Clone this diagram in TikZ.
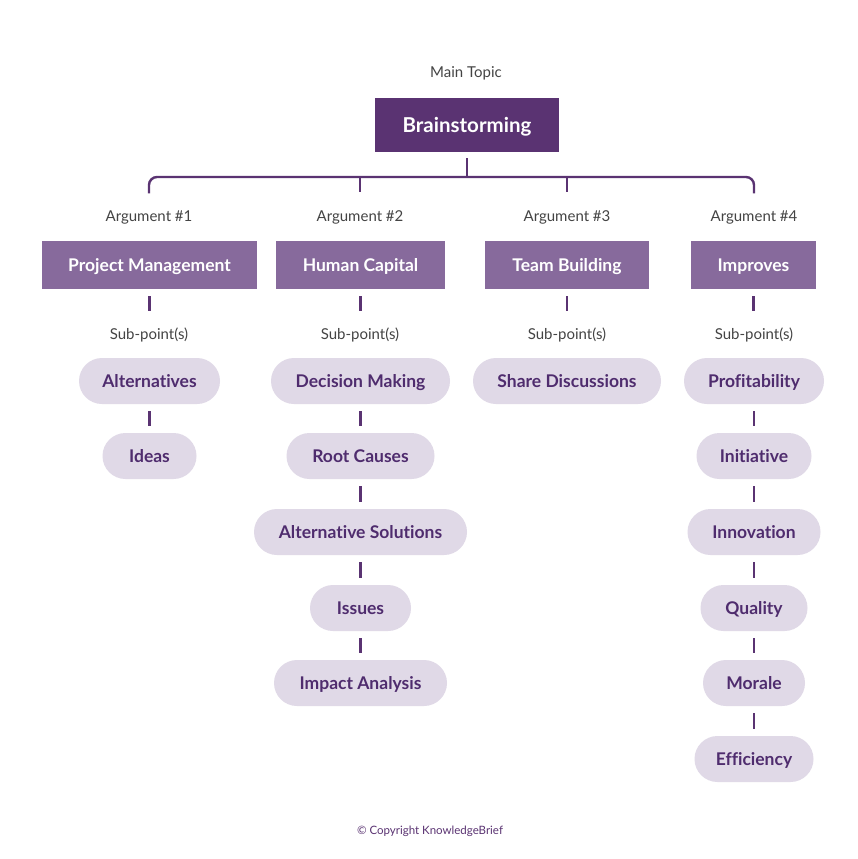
\documentclass[tikz,border=0pt]{standalone}
\usepackage{fontspec}
\setmainfont{Lato}[Ligatures=NoCommon]
\usetikzlibrary{calc}
\definecolor{dark}{HTML}{5A3372}
\definecolor{argc}{HTML}{876A9C}
\definecolor{pillc}{HTML}{E0D9E7}
\definecolor{pilltext}{HTML}{4F2C6E}
\definecolor{labgray}{HTML}{444444}
\begin{document}
\begin{tikzpicture}[x=1pt,y=-1pt,
 topbox/.style={fill=dark, text=white, font=\fontsize{20.5}{23}\selectfont\bfseries, minimum width=184pt, minimum height=54pt, inner sep=0pt, text height=14.7pt, text depth=0pt},
 argbox/.style={fill=argc, text=white, font=\fontsize{17.5}{20}\selectfont\bfseries, minimum height=48pt, inner sep=0pt, text height=12.5pt, text depth=0pt},
 pill/.style={fill=pillc, text=pilltext, rounded corners=23pt, minimum height=46pt, inner sep=0pt, font=\fontsize{17.5}{20}\selectfont\bfseries, text height=12.5pt, text depth=0pt},
 lab/.style={text=labgray, font=\fontsize{15}{17}\selectfont, inner sep=0pt, text height=10.7pt, text depth=0pt},
 conn/.style={draw=dark, line width=2.4pt},
 stub/.style={conn, shorten <=7pt, shorten >=7pt},
]
\fill[white] (0,0) rectangle (858,859);

% main topic
\node[lab] (mt) at (466,72) {Main Topic};
\node[topbox] (top) at (467,125) {Brainstorming};
\coordinate (bar) at (467,177);

% argument labels and boxes
\node[lab] (g1) at (149,216) {Argument \#1};
\node[lab] (g2) at (360,216) {Argument \#2};
\node[lab] (g3) at (567,216) {Argument \#3};
\node[lab] (g4) at (754,216) {Argument \#4};

\node[argbox, minimum width=215pt] (a1) at (149.5,265) {Project Management};
\node[argbox, minimum width=169pt] (a2) at (360.5,265) {Human Capital};
\node[argbox, minimum width=164pt] (a3) at (567,265) {Team Building};
\node[argbox, minimum width=125pt] (a4) at (753.5,265) {Improves};

\node[lab] (s1) at (149,334) {Sub-point(s)};
\node[lab] (s2) at (360,334) {Sub-point(s)};
\node[lab] (s3) at (567,334) {Sub-point(s)};
\node[lab] (s4) at (754,334) {Sub-point(s)};

% pills
\node[pill, minimum width=141pt] (p11) at (149.5,381) {Alternatives};
\node[pill, minimum width=94pt] (p12) at (149.5,456) {Ideas};

\node[pill, minimum width=179pt] (p21) at (360.5,381) {Decision Making};
\node[pill, minimum width=148pt] (p22) at (360.5,456) {Root Causes};
\node[pill, minimum width=213pt] (p23) at (360.5,532) {Alternative Solutions};
\node[pill, minimum width=101pt] (p24) at (360.5,608) {Issues};
\node[pill, minimum width=173pt] (p25) at (360.5,683) {Impact Analysis};

\node[pill, minimum width=188pt] (p31) at (567,381) {Share Discussions};

\node[pill, minimum width=140pt] (p41) at (754,381) {Profitability};
\node[pill, minimum width=115pt] (p42) at (754,456) {Initiative};
\node[pill, minimum width=133pt] (p43) at (754,532) {Innovation};
\node[pill, minimum width=107pt] (p44) at (754,608) {Quality};
\node[pill, minimum width=102pt] (p45) at (754,683) {Morale};
\node[pill, minimum width=119pt] (p46) at (754,759) {Efficiency};

% top connectors
\draw[conn, shorten <=6pt] (top.south) -- (bar);
\draw[conn, rounded corners=8pt, shorten <=17pt, shorten >=17pt] (g1.north) |- (bar) -| (g4.north);
\draw[conn, shorten >=18pt] (g2.north |- bar) -- (g2.north);
\draw[conn, shorten >=18pt] (g3.north |- bar) -- (g3.north);

% argument box to sub-point labels
\foreach \i in {1,2,3,4}{
  \draw[conn, shorten <=7pt, shorten >=17pt] (a\i.south) -- (a\i.south |- s\i.north);
}

% pill chains
\draw[stub] (p11.south) -- (p12.north);
\draw[stub] (p21.south) -- (p22.north);
\draw[stub] (p22.south) -- (p23.north);
\draw[stub] (p23.south) -- (p24.north);
\draw[stub] (p24.south) -- (p25.north);
\draw[stub] (p41.south) -- (p42.north);
\draw[stub] (p42.south) -- (p43.north);
\draw[stub] (p43.south) -- (p44.north);
\draw[stub] (p44.south) -- (p45.north);
\draw[stub] (p45.south) -- (p46.north);

% copyright
\node[text=dark, font=\fontsize{11.5}{13}\selectfont, inner sep=0pt, text height=8.2pt, text depth=0pt] (cr) at (430,830) {© Copyright KnowledgeBrief};
\end{tikzpicture}
\end{document}
